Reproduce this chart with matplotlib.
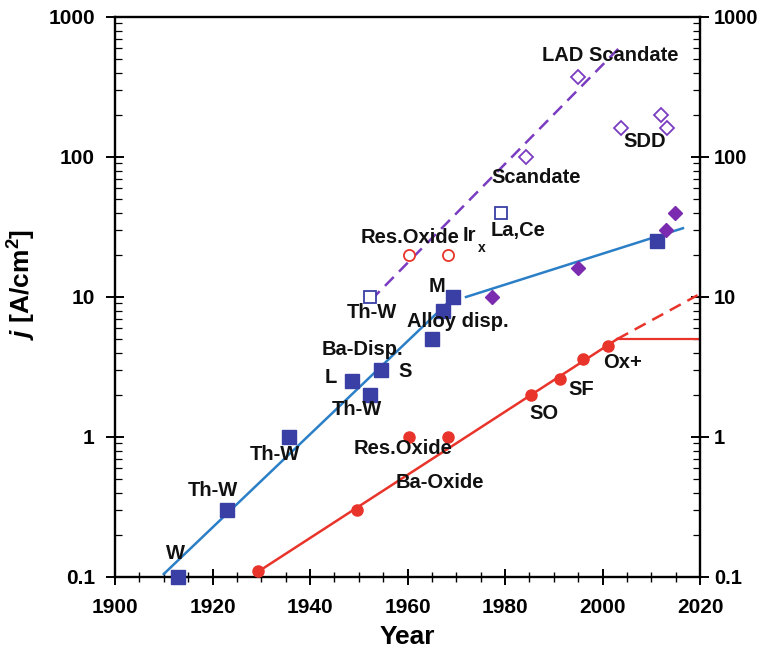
import matplotlib
matplotlib.use("Agg")
import matplotlib.pyplot as plt
import matplotlib.transforms as mtransforms
from matplotlib.ticker import MultipleLocator, LogLocator, NullFormatter, FixedLocator, FixedFormatter

plt.rcParams['font.family'] = ['Liberation Sans', 'DejaVu Sans']
plt.rcParams['font.weight'] = 'bold'
plt.rcParams['mathtext.fontset'] = 'custom'
plt.rcParams['mathtext.rm'] = 'Liberation Sans:bold'
plt.rcParams['mathtext.it'] = 'Liberation Sans:italic:bold'
plt.rcParams['mathtext.bf'] = 'Liberation Sans:bold'

# ---- data ----
blue_sq_years = [1913, 1923, 1935.7, 1948.6, 1952.3, 1954.6, 1965, 1967.3, 1969.3, 2011.2]
blue_sq_j = [0.1, 0.3, 1.0, 2.5, 2.0, 3.0, 5.0, 8.0, 10.0, 25.0]

open_sq_years = [1952.3, 1979.2]
open_sq_j = [10, 40]

open_dia_years = [1984.3, 1995, 2003.8, 2012, 2013.2]
open_dia_j = [100, 370, 160, 200, 160]

fill_dia_years = [1977.3, 1995, 2013, 2014.9]
fill_dia_j = [10, 16, 30, 40]

red_open_years = [1960.3, 1968.3]
red_open_j = [20, 20]

red_fill_years = [1929.3, 1949.6, 1960.3, 1968.3, 1985.3, 1991.3, 1996, 2001.1]
red_fill_j = [0.11, 0.3, 1, 1, 2, 2.6, 3.6, 4.5]

# trend lines
blue_line1_years = [1910, 1969.5]
blue_line1_j = [0.105, 10]
blue_line2_years = [1972, 2016.5]
blue_line2_j = [10, 31]
purple_dash_years = [1952.5, 2004]
purple_dash_j = [9.5, 630]
red_line_years = [1929.5, 2003]
red_line_j = [0.11, 5]
red_flat_years = [2003, 2020]
red_flat_j = [5, 5]
red_dash_years = [2003, 2019.5]
red_dash_j = [5, 10.3]

# labels: (text, year, j)
labels = [
    ("LAD Scandate", 2001.5, 535),
    ("SDD", 2008.7, 128),
    ("Scandate", 1986.4, 70.8),
    ("Res.Oxide", 1960.5, 26.8),
    ("Th-W", 1952.7, 7.8),
    ("M", 1966.1, 11.8),
    ("Alloy disp.", 1970.4, 6.63),
    ("Ba-Disp.", 1950.7, 4.25),
    ("S", 1959.5, 2.96),
    ("L", 1944.3, 2.64),
    ("Th-W", 1949.6, 1.56),
    ("Th-W", 1932.8, 0.744),
    ("Res.Oxide", 1959.1, 0.834),
    ("Ba-Oxide", 1966.7, 0.47),
    ("Th-W", 1920.1, 0.418),
    ("W", 1912.5, 0.146),
    ("SO", 1988.0, 1.48),
    ("SF", 1995.6, 2.2),
    ("Ox+", 2004.2, 3.43),
]

x_ticks = [1900, 1920, 1940, 1960, 1980, 2000, 2020]
y_ticks = [0.1, 1, 10, 100, 1000]
y_tick_labels = ["0.1", "1", "10", "100", "1000"]

BLUE_SQ = '#3a3fa6'
BLUE_LN = '#2b7fc6'
PURPLE = '#7a3cc0'
PURPLE_F = '#7a2bb0'
RED = '#e8342a'
TXT = '#111111'
FS = 14.5

fig = plt.figure(figsize=(7.64, 6.52), dpi=100)
ax = fig.add_axes([115/764, 1-577/652, (700-115)/764, (577-17)/652])
ax.set_yscale('log')
ax.set_xlim(1900, 2020)
ax.set_ylim(0.1, 1000)

# lines
ax.plot(blue_line1_years, blue_line1_j, color=BLUE_LN, lw=1.8, zorder=2)
ax.plot(blue_line2_years, blue_line2_j, color=BLUE_LN, lw=1.8, zorder=2)
ax.plot(purple_dash_years, purple_dash_j, color=PURPLE, lw=1.8, ls=(0, (5, 3)), zorder=2)
ax.plot(red_line_years, red_line_j, color=RED, lw=1.8, zorder=2)
ax.plot(red_flat_years, red_flat_j, color=RED, lw=1.6, zorder=2)
ax.plot(red_dash_years, red_dash_j, color=RED, lw=1.8, ls=(0, (5, 3)), zorder=2)

# markers
ax.plot(blue_sq_years, blue_sq_j, ls='none', marker='s', ms=9.5, color=BLUE_SQ, zorder=3, clip_on=False)
ax.plot(open_sq_years, open_sq_j, ls='none', marker='s', ms=8, mfc='white', mec=BLUE_SQ, mew=1.3, zorder=3)
ax.plot(open_dia_years, open_dia_j, ls='none', marker='D', ms=7.5, mfc='none', mec=PURPLE, mew=1.3, zorder=3)
ax.plot(fill_dia_years, fill_dia_j, ls='none', marker='D', ms=7.5, color=PURPLE_F, zorder=3)
ax.plot(red_open_years, red_open_j, ls='none', marker='o', ms=8, mfc='white', mec=RED, mew=1.3, zorder=3)
ax.plot(red_fill_years, red_fill_j, ls='none', marker='o', ms=8, color=RED, zorder=3, clip_on=False)

# annotations
for txt, xx, yy in labels:
    ax.text(xx, yy, txt, ha='center', va='center', fontsize=FS, fontweight='bold', color=TXT, zorder=4)
ax.text(1972.6, 27.7, "Ir", ha='center', va='center', fontsize=FS, fontweight='bold', color=TXT, zorder=4)
ax.text(1975.3, 22.3, "x", ha='center', va='center', fontsize=10, fontweight='bold', color=TXT, zorder=4)
ax.text(1982.6, 30.1, "La,Ce", ha='center', va='center', fontsize=FS, fontweight='bold', color=TXT, zorder=4)

# axes styling
for side in ['left', 'right', 'top', 'bottom']:
    ax.spines[side].set_linewidth(1.7)
ax.xaxis.set_major_locator(FixedLocator(x_ticks))
ax.xaxis.set_minor_locator(MultipleLocator(5))
ax.yaxis.set_major_locator(FixedLocator(y_ticks))
ax.yaxis.set_major_formatter(FixedFormatter(y_tick_labels))
ax.yaxis.set_minor_locator(LogLocator(base=10, subs=range(2, 10)))
ax.yaxis.set_minor_formatter(NullFormatter())

ax.tick_params(axis='x', which='major', direction='inout', length=12, width=1.4,
               labelsize=15, pad=9, top=False)
ax.tick_params(axis='x', which='minor', direction='inout', length=7, width=1.0, top=False)
ax.tick_params(axis='y', which='major', direction='inout', length=13, width=1.4,
               labelsize=15, left=True, right=True, labelleft=True, labelright=False, pad=8)
ax.tick_params(axis='y', which='minor', direction='in', length=5, width=0.9, left=True, right=True)
for lab in ax.get_xticklabels() + ax.get_yticklabels():
    lab.set_fontweight('bold')

# right-hand tick labels (same values as left axis)
right_tr = mtransforms.blended_transform_factory(ax.transAxes, ax.transData)
for yv, yl in zip(y_ticks, y_tick_labels):
    ax.text(1.0 + 14/585, yv, yl, transform=right_tr, ha='left', va='center_baseline',
            fontsize=14.5, fontweight='bold', color='black', clip_on=False)

ax.set_xlabel("Year", fontsize=19, fontweight='bold', labelpad=6)
ax.set_ylabel(r"$j$ [A/cm$^2$]", fontsize=19, fontweight='bold')
ax.yaxis.set_label_coords(-0.132, 0.523)

fig.savefig("out.png", dpi=100)
